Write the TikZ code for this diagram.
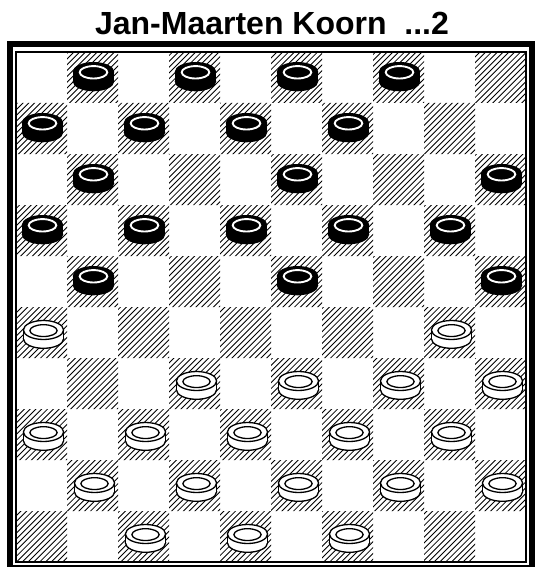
\documentclass[tikz,border=0pt]{standalone}
\usepackage{fontspec}
\setmainfont{Liberation Sans}
\newcommand\blackman[2]{%
  \begin{scope}[shift={({42.5+51*#1},{72+51*#2})}]
    \fill[black] (0,9.3) ellipse [x radius=20.8, y radius=10];
    \fill[black] (-20.8,0) rectangle (20.8,9.3);
    \fill[black] (0,0) ellipse [x radius=20.8, y radius=10];
    \draw[white, line width=1.9pt] (0,0.3) ellipse [x radius=13.8, y radius=6.2];
  \end{scope}}
\newcommand\whiteman[2]{%
  \begin{scope}[shift={({43.5+51*#1},{75+51*#2})}]
    \filldraw[manline, fill=white] (0,8.8) ellipse [x radius=20.1, y radius=9.5];
    \fill[white] (-20.1,0) rectangle (20.1,8.8);
    \filldraw[manline, fill=white] (0,0) ellipse [x radius=20.1, y radius=9.5];
    \draw[manline] (-20.1,0) -- (-20.1,8.8);
    \draw[manline] (20.1,0) -- (20.1,8.8);
    \draw[manline] (0,0.6) ellipse [x radius=13.6, y radius=5.9];
  \end{scope}}
\begin{document}
\begin{tikzpicture}[x=1pt,y=-1pt,
  manline/.style={draw=black, line width=1.3pt},
  hatchline/.style={draw=black, line width=0.85pt},
  thickframe/.style={draw=black, line width=6pt},
  thinframe/.style={draw=black, line width=1.2pt}]
\useasboundingbox (0,0) rectangle (536,567);
\fill[white] (0,0) rectangle (536,567);
\node[font=\bfseries\fontsize{32}{32}\selectfont, anchor=base, inner sep=0pt] (title) at (272,34.3) {Jan-Maarten Koorn\ \ ...2};
% hatched dark squares
\begin{scope}
  \path[clip] \foreach \r in {0,...,9} {\foreach \k in {0,...,4} {({16+51*(2*\k+mod(\r+1,2))},{52+51*\r}) rectangle ++(51,51)}};
  \foreach \s in {0,5.8,...,1040} \draw[hatchline] ({\s-494},562) -- ({\s+16},52);
\end{scope}
% frames
\draw[thickframe] (10,44) rectangle (532,568);
\draw[thinframe] (16,52) rectangle (526,562);
% black men
\foreach \c/\r in {1/0,3/0,5/0,7/0,0/1,2/1,4/1,6/1,1/2,5/2,9/2,0/3,2/3,4/3,6/3,8/3,1/4,5/4,9/4}
  {\blackman{\c}{\r}}
% white men
\foreach \c/\r in {0/5,8/5,3/6,5/6,7/6,9/6,0/7,2/7,4/7,6/7,8/7,1/8,3/8,5/8,7/8,9/8,2/9,4/9,6/9}
  {\whiteman{\c}{\r}}
\end{tikzpicture}
\end{document}
